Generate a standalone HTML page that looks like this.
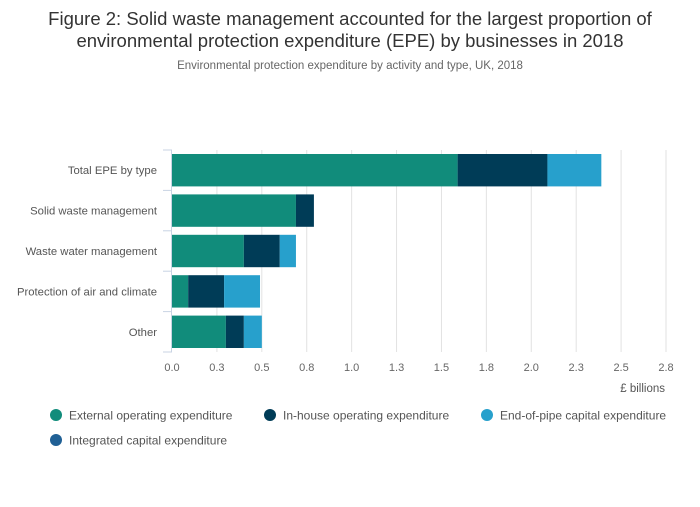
<!DOCTYPE html>
<html><head><meta charset="utf-8"><style>
body{margin:0;background:#fff;font-family:"Liberation Sans","Open Sans",sans-serif;}
svg text{font-family:"Liberation Sans",sans-serif;}
</style></head><body>
<svg id="c" width="700" height="502">
<text x="350" y="25" text-anchor="middle" font-size="18.5" fill="#333">Figure 2: Solid waste management accounted for the largest proportion of</text>
<text x="350" y="47" text-anchor="middle" font-size="18.5" fill="#333">environmental protection expenditure (EPE) by businesses in 2018</text>
<text x="350" y="69" text-anchor="middle" font-size="11.5" fill="#666">Environmental protection expenditure by activity and type, UK, 2018</text>
<g id="grid"></g><g id="bars"></g><g id="axes"></g><g id="legend"></g>
</svg>
<script>
const categories=["Total EPE by type","Solid waste management","Waste water management","Protection of air and climate","Other"];
const seriesNames=["External operating expenditure","In-house operating expenditure","End-of-pipe capital expenditure","Integrated capital expenditure"];
const external=[1.59,0.69,0.40,0.09,0.30];
const inhouse=[0.50,0.10,0.20,0.20,0.10];
const endpipe=[0.30,0.00,0.09,0.20,0.10];
const integrated=[0,0,0,0,0];
const tickValues=[0,0.25,0.5,0.75,1,1.25,1.5,1.75,2,2.25,2.5,2.75];
const tickLabels=["0.0","0.3","0.5","0.8","1.0","1.3","1.5","1.8","2.0","2.3","2.5","2.8"];
const colors=["#118c7b","#003c57","#27a0cc","#206095"];
const NS="http://www.w3.org/2000/svg";
const x0=172,x1=666,xmax=2.75,yTop=150,yBot=352;
const band=(yBot-yTop)/categories.length;
const xs=v=>x0+v/xmax*(x1-x0);
const yb=i=>yTop+i*band;
function mk(t,a,p){const e=document.createElementNS(NS,t);for(const k in a)e.setAttribute(k,a[k]);p.appendChild(e);return e;}
const grid=document.getElementById('grid'),bars=document.getElementById('bars'),axes=document.getElementById('axes'),leg=document.getElementById('legend');
tickValues.forEach((v,i)=>{
 if(i>0){const l=mk('line',{x1:xs(v),x2:xs(v),y1:yTop,y2:yBot,stroke:'#e2e2e2'},grid);
 
 }
 const t=mk('text',{x:xs(v),y:371,'text-anchor':'middle','font-size':11,fill:'#666'},axes);t.textContent=tickLabels[i];
 
 
});
const series=[external,inhouse,endpipe,integrated];
categories.forEach((c,i)=>{
 let acc=0;
 series.forEach((s,j)=>{
  if(s[i]>0){const r=mk('rect',{x:xs(acc),y:yb(i)+4,width:xs(acc+s[i])-xs(acc),height:band-8,fill:colors[j]},bars);
  
  }
  acc+=s[i];
 });
 const t=mk('text',{x:157,y:yb(i)+band/2+4,'text-anchor':'end','font-size':11.3,fill:'#555'},axes);t.textContent=c;
 
 
});
for(let i=0;i<=categories.length;i++){mk('line',{x1:163,x2:172,y1:yb(i),y2:yb(i),stroke:'#c8d3e3'},axes);}
const ax=mk('line',{x1:171.5,x2:171.5,y1:yTop,y2:yBot,stroke:'#c8d3e3'},axes);


const xt=mk('text',{x:665,y:392,'text-anchor':'end','font-size':11.5,fill:'#555'},axes);xt.textContent='£ billions';


const lp=[[56,416],[270,416],[487,416],[56,441]];
seriesNames.forEach((n,j)=>{
 const g=mk('g',{},leg);
 
 
 mk('circle',{cx:lp[j][0],cy:lp[j][1]-1,r:6,fill:colors[j]},g);
 const t=mk('text',{x:lp[j][0]+13,y:lp[j][1]+3.5,'font-size':12,fill:'#555'},g);t.textContent=n;
});
</script>
</body></html>
